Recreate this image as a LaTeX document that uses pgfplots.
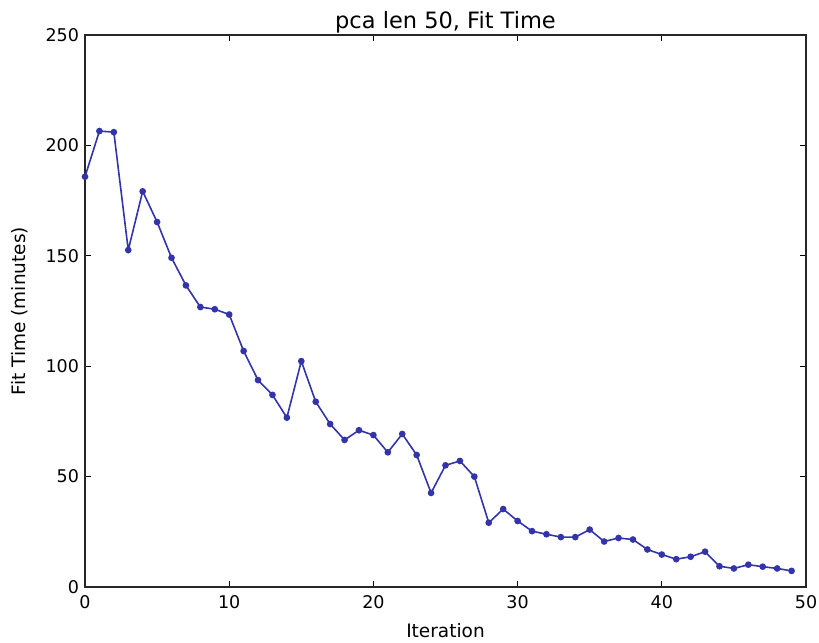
\documentclass[border=0pt]{standalone}
\usepackage{pgfplots}
\pgfplotsset{compat=1.18}
\usepackage{fontspec}
\setmainfont{DejaVu Sans}

\definecolor{fitblue}{RGB}{52,52,170}

\pgfplotstableread{
it  t
0   185.8
1   206.5
2   206.0
3   152.6
4   179.2
5   165.3
6   149.1
7   136.6
8   126.8
9   125.8
10  123.4
11  106.9
12  93.7
13  87.0
14  76.7
15  102.3
16  83.9
17  73.8
18  66.6
19  71.0
20  68.8
21  61.0
22  69.3
23  59.8
24  42.6
25  55.1
26  57.1
27  50.0
28  29.1
29  35.3
30  29.9
31  25.3
32  23.9
33  22.6
34  22.6
35  26.0
36  20.6
37  22.2
38  21.5
39  17.0
40  14.7
41  12.6
42  13.7
43  16.0
44  9.4
45  8.4
46  10.1
47  9.2
48  8.4
49  7.3
}\fittime

\begin{document}
\begin{tikzpicture}
\path[use as bounding box] (-85bp,-56bp) rectangle (734bp,587bp);
\begin{axis}[
  at={(0,0)}, anchor=south west,
  scale only axis, width=721bp, height=552bp,
  xmin=0, xmax=50, ymin=0, ymax=250,
  xtick={0,10,...,50}, ytick={0,50,...,250},
  tick align=inside, major tick length=6bp,
  tick style={black, line width=0.8bp},
  axis line style={black!85, line width=1.1bp},
  /pgf/number format/assume math mode=true,
  ticklabel style={font=\fontsize{17.5bp}{20bp}\selectfont},
  xticklabel style={anchor=north, yshift=-4.5bp},
  yticklabel style={anchor=east, xshift=-2.5bp},
  every axis x label/.style={at={(axis description cs:0.5,0)}, yshift=-50.5bp,
    anchor=base, font=\fontsize{18.5bp}{22bp}\selectfont},
  every axis y label/.style={at={(axis description cs:0,0.5)}, xshift=-65bp,
    rotate=90, anchor=center, font=\fontsize{18.5bp}{22bp}\selectfont},
  every axis title/.style={at={(axis description cs:0.5,1)}, anchor=base,
    yshift=6.5bp, font=\fontsize{22.5bp}{26bp}\selectfont},
  title={pca len 50, Fit Time},
  xlabel={Iteration},
  ylabel={Fit Time (minutes)},
]
\addplot[fitblue, line width=1.6bp, mark=*, mark size=2.5bp,
         mark options={fill=fitblue, draw=fitblue}] table[x=it, y=t] {\fittime};
\end{axis}
\end{tikzpicture}
\end{document}
